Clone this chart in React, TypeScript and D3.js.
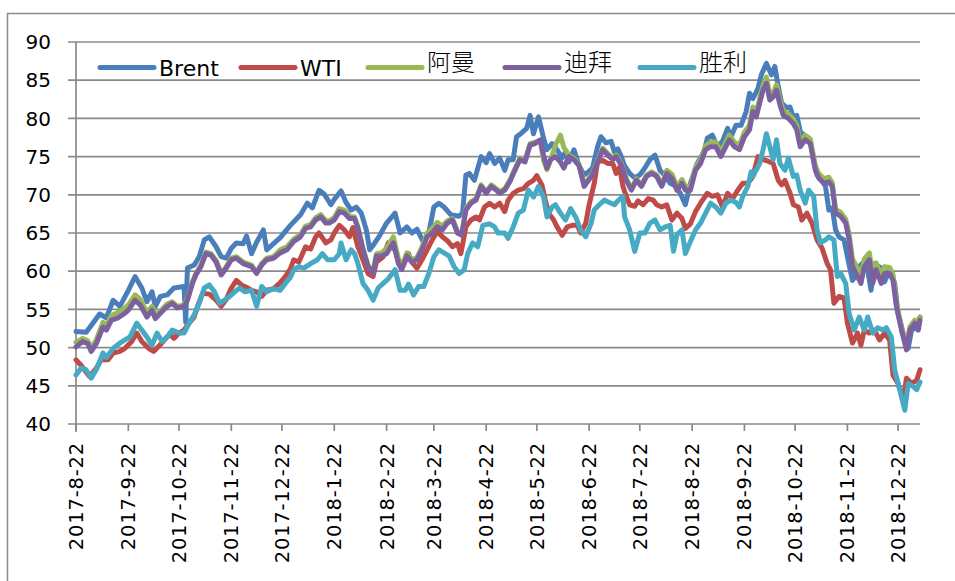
import React from "react";
import * as d3 from "d3";

// x positions: days since 2017-08-22
const startDate = "2017-8-22";
const endDate = "2019-1-4";

const xTickLabels = [
  "2017-8-22", "2017-9-22", "2017-10-22", "2017-11-22", "2017-12-22",
  "2018-1-22", "2018-2-22", "2018-3-22", "2018-4-22", "2018-5-22",
  "2018-6-22", "2018-7-22", "2018-8-22", "2018-9-22", "2018-10-22",
  "2018-11-22", "2018-12-22",
];
const yTicks = [40, 45, 50, 55, 60, 65, 70, 75, 80, 85, 90];

const seriesNames = ["Brent", "WTI", "阿曼", "迪拜", "胜利"];
const seriesColors = ["#4A7EBB", "#BE4B48", "#98B954", "#7D60A0", "#46AAC5"];

const brent: [number, number][] = [[0,52.1],[6,52.0],[9,52.9],[14,54.4],[18,53.9],[22,56.2],[26,55.4],[31,57.5],[35,59.3],[39,57.8],[42,56.0],[45,57.3],[47,55.4],[50,56.7],[54,56.9],[58,57.8],[64,58.0],[65,53.3],[66,60.4],[70,60.8],[73,61.9],[76,64.1],[79,64.5],[83,63.2],[86,61.9],[89,61.7],[92,63.0],[95,63.7],[99,63.6],[101,64.6],[104,62.3],[107,63.8],[111,65.4],[113,62.8],[117,63.6],[121,64.4],[127,66.0],[133,67.4],[137,68.9],[140,68.3],[144,70.6],[147,70.1],[151,68.7],[153,69.4],[157,70.5],[160,69.0],[163,68.0],[166,68.4],[169,67.6],[172,65.4],[174,62.8],[177,63.7],[180,64.7],[184,66.3],[189,67.6],[192,65.0],[196,65.8],[199,65.0],[202,65.5],[206,63.7],[209,65.0],[212,68.4],[215,68.9],[218,68.4],[222,67.4],[227,67.2],[229,67.6],[231,72.6],[233,72.8],[236,71.9],[240,75.0],[243,74.2],[245,75.4],[248,74.1],[251,74.8],[254,73.2],[256,74.6],[259,74.6],[261,77.6],[264,78.1],[267,78.7],[269,80.4],[271,78.0],[274,80.2],[277,77.4],[279,75.9],[282,76.7],[285,75.9],[288,74.8],[290,75.6],[292,74.3],[295,75.9],[298,73.8],[301,72.6],[303,72.9],[306,73.5],[309,76.3],[311,77.6],[314,76.8],[317,77.0],[319,75.6],[321,76.0],[323,75.0],[325,73.8],[328,72.8],[331,72.2],[334,72.6],[337,73.5],[340,74.6],[343,75.2],[346,73.2],[349,72.5],[352,71.5],[355,71.2],[358,70.2],[361,68.7],[364,71.5],[368,74.1],[372,75.6],[374,77.4],[377,77.8],[380,76.3],[383,77.0],[386,78.7],[388,77.6],[391,79.1],[394,79.1],[397,80.9],[399,83.3],[401,82.6],[404,83.9],[406,85.7],[409,87.2],[412,85.7],[414,86.8],[416,84.2],[418,82.0],[421,81.4],[423,81.5],[425,80.1],[427,80.4],[429,78.3],[432,77.6],[435,77.0],[437,74.6],[439,72.6],[442,71.9],[444,71.1],[446,68.0],[448,68.3],[450,65.4],[452,64.5],[455,64.1],[457,61.9],[460,58.8],[462,59.5],[464,60.6],[468,61.5],[471,57.5],[473,61.0],[477,60.4],[479,58.6],[482,60.2],[485,58.4],[487,54.5],[490,51.9],[493,49.9],[495,52.3],[498,52.6],[500,54.0]];

const wti: [number, number][] = [[0,48.4],[3,47.7],[8,46.2],[12,47.3],[15,48.4],[19,48.4],[22,49.3],[26,49.5],[29,49.9],[33,50.8],[36,51.9],[39,50.8],[43,49.9],[46,49.5],[50,50.4],[54,51.4],[56,51.7],[58,51.2],[61,51.9],[64,52.3],[67,53.2],[70,54.0],[72,55.4],[75,57.1],[79,57.0],[83,56.2],[86,55.4],[89,56.3],[92,57.8],[95,58.8],[98,58.2],[101,57.9],[104,57.5],[107,57.3],[110,56.7],[113,57.5],[117,57.7],[121,58.5],[124,59.3],[127,60.3],[129,61.5],[132,61.2],[136,63.2],[139,62.9],[142,64.5],[144,65.0],[148,63.7],[151,64.1],[153,65.0],[156,66.0],[159,65.4],[162,64.5],[164,65.7],[167,63.2],[170,61.5],[173,59.7],[176,59.3],[178,61.2],[182,61.9],[185,63.7],[188,63.3],[191,61.5],[194,60.8],[197,62.3],[199,61.2],[202,60.4],[205,61.5],[208,62.8],[211,64.1],[214,65.2],[217,64.5],[220,64.0],[223,63.2],[226,63.6],[228,62.3],[231,65.8],[234,66.7],[237,67.1],[239,66.7],[242,68.4],[245,68.9],[248,68.4],[251,68.9],[254,67.8],[256,69.3],[259,70.2],[262,70.6],[265,70.8],[268,71.5],[271,71.9],[273,72.5],[276,71.3],[278,69.3],[280,67.6],[283,66.7],[285,65.8],[288,64.7],[291,65.8],[294,66.0],[297,66.0],[299,65.0],[302,66.3],[304,68.7],[307,71.5],[309,74.3],[312,74.5],[315,74.1],[318,74.1],[320,72.8],[322,73.6],[324,71.1],[326,69.8],[328,68.7],[331,68.5],[333,69.2],[336,68.7],[339,69.5],[342,69.3],[344,68.7],[347,68.4],[350,68.7],[353,66.7],[356,67.6],[359,66.9],[361,65.6],[364,66.2],[367,67.8],[370,68.9],[374,70.2],[377,69.8],[380,70.0],[383,68.4],[386,70.2],[389,69.5],[392,70.6],[395,71.5],[398,71.5],[401,72.4],[404,75.0],[407,74.6],[410,74.4],[413,74.1],[416,71.9],[418,71.3],[420,71.9],[423,70.2],[425,68.7],[428,68.4],[430,66.7],[433,67.6],[436,66.3],[439,64.1],[442,63.0],[445,61.0],[447,60.2],[449,55.8],[452,56.7],[455,56.5],[457,53.2],[460,50.6],[463,51.9],[465,50.3],[467,52.3],[470,51.9],[473,52.3],[476,51.0],[479,51.9],[482,51.0],[484,46.4],[487,45.3],[490,43.1],[492,46.0],[495,45.3],[498,45.7],[500,47.1]];

const oman: [number, number][] = [[0,50.7],[4,51.2],[7,50.9],[9,49.9],[12,51.0],[16,53.3],[18,52.9],[21,54.2],[25,54.6],[29,55.2],[31,55.6],[35,56.9],[38,56.3],[42,54.6],[45,55.4],[47,54.2],[50,54.8],[54,55.7],[57,56.0],[60,55.4],[64,55.6],[66,56.4],[69,58.6],[71,59.7],[74,60.8],[77,62.5],[80,62.3],[83,61.4],[86,59.7],[89,60.6],[92,61.7],[95,61.9],[99,61.2],[104,60.8],[107,59.9],[110,61.0],[113,61.7],[117,61.9],[121,62.8],[125,63.2],[129,64.2],[133,64.8],[136,65.9],[139,66.1],[142,67.0],[145,67.4],[148,66.6],[150,66.6],[153,67.0],[156,68.2],[159,68.0],[162,67.2],[165,67.1],[167,65.8],[170,63.0],[173,60.8],[176,59.9],[178,62.3],[181,62.4],[184,63.0],[188,64.5],[191,61.6],[193,60.6],[196,62.4],[199,61.5],[202,61.8],[205,63.2],[208,65.0],[211,65.6],[214,66.4],[217,65.9],[220,66.6],[223,66.9],[226,65.2],[228.5,64.9],[231,68.2],[234,69.1],[237,69.5],[240,71.3],[243,70.4],[246,71.3],[249,70.8],[251,70.4],[254,70.8],[257,71.9],[260,73.4],[263,74.8],[266,74.5],[269,76.7],[272,76.9],[275,77.0],[277,74.5],[279,73.3],[281,74.4],[284,76.5],[287,77.8],[289,76.2],[292,75.2],[295,74.8],[298,74.0],[301,71.3],[303,71.9],[306,72.8],[309,74.5],[312,76.1],[315,75.4],[318,74.8],[320,75.2],[323,74.1],[326,72.1],[329,70.8],[332,72.1],[335,71.3],[338,72.6],[341,73.0],[344,72.6],[347,71.3],[350,73.2],[353,72.7],[356,71.1],[359,72.0],[361,71.1],[364,71.1],[367,73.6],[370,74.6],[373,76.4],[376,76.9],[379,76.9],[382,75.6],[385,76.9],[387,77.8],[390,76.9],[393,76.5],[396,78.2],[399,79.1],[401,81.5],[403,80.8],[405,82.6],[407,84.3],[409,85.4],[411,83.1],[413,83.4],[415,84.4],[417,82.4],[419,81.0],[422,80.6],[425,79.9],[427,79.1],[429,76.9],[432,77.8],[435,77.3],[438,73.8],[440,72.8],[443,72.1],[446,72.3],[448,71.6],[450,68.1],[453,67.7],[456,66.8],[458,64.9],[460,61.6],[463,60.4],[465,59.4],[467,61.6],[470,62.4],[472,59.4],[474,61.1],[477,59.4],[479,60.6],[482,60.5],[484,59.6],[486,55.9],[489,52.7],[492,50.1],[494,52.7],[497,53.6],[499,52.7],[500,54.0]];

const dubai: [number, number][] = [[0,50.1],[4,50.8],[7,50.5],[9,49.5],[12,50.5],[16,52.7],[18,52.3],[21,53.6],[25,53.9],[29,54.5],[31,54.9],[35,56.2],[38,55.6],[42,54.0],[45,54.9],[47,53.8],[50,54.5],[54,55.4],[57,55.8],[60,55.2],[64,55.4],[66,56.2],[69,58.4],[71,59.5],[74,60.6],[77,62.3],[80,62.1],[83,61.2],[86,59.5],[89,60.4],[92,61.5],[95,61.7],[99,61.0],[104,60.6],[107,59.7],[110,60.8],[113,61.5],[117,61.7],[121,62.4],[125,62.8],[129,63.9],[133,64.5],[136,65.6],[139,65.8],[142,66.7],[145,67.1],[148,66.3],[150,66.3],[153,66.7],[156,67.8],[159,67.6],[162,66.9],[165,66.9],[167,65.6],[170,62.8],[173,60.6],[176,59.7],[178,62.0],[181,62.0],[184,62.3],[188,63.7],[191,61.0],[193,60.2],[196,62.0],[199,61.2],[202,61.5],[205,62.8],[208,64.5],[211,65.0],[214,65.8],[217,65.4],[220,66.3],[223,66.7],[226,65.0],[228.5,64.7],[231,68.0],[234,68.9],[237,69.3],[240,71.1],[243,70.2],[246,71.1],[249,70.6],[251,70.2],[254,70.6],[257,71.7],[260,73.2],[263,74.6],[266,74.3],[269,76.5],[272,76.7],[275,77.2],[277,75.2],[279,73.5],[281,74.6],[284,75.0],[287,74.3],[289,73.5],[292,75.0],[295,74.6],[298,73.8],[301,71.1],[303,71.7],[306,72.6],[309,74.3],[312,75.9],[315,75.2],[318,74.6],[320,75.0],[323,73.9],[326,71.9],[329,70.6],[332,71.9],[335,71.1],[338,72.4],[341,72.8],[344,72.4],[347,71.1],[350,72.8],[353,72.2],[356,70.6],[359,71.5],[361,70.6],[364,70.6],[367,73.2],[370,74.1],[373,75.9],[376,76.3],[379,76.3],[382,75.0],[385,76.3],[387,77.2],[390,76.3],[393,75.9],[396,77.6],[399,78.5],[401,80.9],[403,80.2],[405,82.0],[407,83.7],[409,84.6],[411,82.4],[413,82.8],[415,83.7],[417,81.8],[419,80.4],[422,80.0],[425,79.3],[427,78.5],[429,76.3],[432,77.2],[435,76.7],[438,73.2],[440,72.2],[443,71.5],[446,71.7],[448,71.1],[450,67.6],[453,67.2],[456,66.3],[458,64.1],[460,60.6],[463,59.3],[465,58.4],[467,60.6],[470,61.5],[472,58.4],[474,60.2],[477,58.4],[479,59.7],[482,59.7],[484,58.8],[486,55.4],[489,52.3],[492,49.7],[494,52.3],[497,53.2],[499,52.3],[500,53.6]];

const shengli: [number, number][] = [[0,46.4],[3,47.3],[6,47.1],[9,46.0],[12,47.1],[16,49.3],[18,48.7],[22,49.9],[26,50.6],[29,51.0],[32,51.4],[36,53.2],[39,52.3],[42,51.4],[45,50.3],[48,51.9],[51,50.8],[54,51.4],[57,52.3],[61,51.9],[64,51.9],[67,53.2],[70,54.3],[73,55.8],[76,57.8],[79,58.2],[82,57.3],[85,55.8],[88,56.2],[91,56.7],[94,57.3],[97,57.8],[100,57.3],[104,57.5],[107,55.4],[110,58.0],[113,57.3],[117,57.7],[121,57.5],[124,58.4],[127,59.2],[129,60.2],[132,60.6],[135,60.4],[139,61.0],[143,61.5],[146,62.3],[149,61.5],[153,61.5],[156,62.3],[157,63.7],[160,61.5],[163,62.8],[165,62.3],[167,61.0],[170,58.4],[173,57.5],[176,56.2],[179,57.8],[182,58.4],[185,59.0],[189,60.2],[192,57.5],[195,57.5],[197,58.3],[200,56.9],[203,58.0],[206,58.0],[209,59.7],[212,61.9],[215,62.8],[218,62.4],[221,62.0],[224,60.6],[227,59.7],[230,60.2],[232,62.3],[235,63.7],[238,63.2],[241,66.0],[245,66.2],[248,65.8],[250,65.0],[254,65.0],[256,64.3],[259,65.8],[262,67.6],[265,68.0],[268,70.6],[271,69.7],[274,71.1],[277,69.7],[279,67.1],[282,68.4],[284,68.7],[287,67.6],[290,66.7],[293,68.2],[296,67.1],[299,65.4],[302,64.5],[305,66.2],[307,68.0],[310,68.7],[313,69.3],[316,69.0],[319,68.7],[321,69.2],[324,69.8],[325,67.1],[328,65.4],[331,62.6],[334,65.0],[337,65.0],[340,66.3],[343,66.7],[346,65.4],[349,65.8],[352,66.0],[354,62.6],[356,64.8],[359,65.4],[361,62.3],[364,63.9],[367,65.4],[370,66.3],[373,67.6],[376,68.9],[379,68.4],[382,67.6],[385,68.9],[388,69.3],[391,69.0],[393,68.4],[395,69.8],[398,71.1],[400,73.0],[401,72.4],[405,74.1],[407,75.9],[409,78.0],[411,76.3],[413,74.6],[415,77.2],[417,74.1],[420,73.2],[422,74.8],[425,72.4],[427,72.6],[429,70.6],[432,68.9],[434,70.6],[437,69.8],[439,65.4],[441,63.7],[444,64.1],[446,64.5],[449,64.1],[451,59.3],[453,59.7],[456,58.4],[458,54.5],[461,52.3],[464,54.0],[467,52.3],[469,54.0],[472,51.9],[475,52.6],[478,52.3],[480,52.6],[483,51.4],[485,47.1],[488,44.5],[491,41.8],[493,45.3],[496,44.9],[498,44.5],[500,45.5]];

const seriesData = [brent, wti, oman, dubai, shengli];

const parseD = (s: string) => {
  const [y, m, d] = s.split("-").map(Number);
  return new Date(Date.UTC(y, m - 1, d));
};
const DAY_MS = 864e5;

export default function App() {
  const start = parseD(startDate);
  const x = d3.scaleUtc().domain([start, parseD(endDate)]).range([76, 920]);
  const y = d3.scaleLinear().domain([40, 90]).range([424, 42]);
  const line = d3
    .line<[number, number]>()
    .x((d) => x(new Date(start.getTime() + d[0] * DAY_MS)))
    .y((d) => y(d[1]));

  const gridColor = "#8A8A8A";
  const font = "'DejaVu Sans', Verdana, sans-serif";
  const legendX = [100, 241, 368, 505, 640];

  return (
    <svg
      width={955}
      height={581}
      style={{ position: "absolute", left: 0, top: 0, background: "#fff" }}
    >
      <rect x={0} y={0} width={955} height={581} fill="#fff" />
      <rect x={7.5} y={13.5} width={1100} height={1100} fill="none" stroke="#8C8C8C" strokeWidth={1.5} />
      {yTicks.map((t) => (
        <line key={t} x1={68} x2={920} y1={y(t)} y2={y(t)} stroke={gridColor} strokeWidth={1.7} />
      ))}
      <line x1={76} x2={76} y1={y(90)} y2={432} stroke={gridColor} strokeWidth={1.7} />
      {xTickLabels.map((s) => (
        <line key={s} x1={x(parseD(s))} x2={x(parseD(s))} y1={424} y2={431} stroke={gridColor} strokeWidth={1.7} />
      ))}
      {yTicks.map((t) => (
        <text key={t} x={51} y={y(t)} dy="0.36em" textAnchor="end" fontFamily={font} fontSize={20} fill="#000">
          {t}
        </text>
      ))}
      {xTickLabels.map((s) => {
        const px = x(parseD(s));
        return (
          <text
            key={s}
            transform={`translate(${px},442) rotate(-90)`}
            textAnchor="end"
            dy="0.36em"
            fontFamily={font}
            fontSize={19.5}
            letterSpacing={0.8}
            fill="#000"
          >
            {s}
          </text>
        );
      })}
      {seriesData.map((data, i) => (
        <path
          key={seriesNames[i]}
          d={line(data) || ""}
          fill="none"
          stroke={seriesColors[i]}
          strokeWidth={5}
          strokeLinejoin="round"
          strokeLinecap="round"
        />
      ))}
      {seriesNames.map((n, i) => {
        const lx = legendX[i];
        const cjk = i >= 2;
        return (
          <g key={n}>
            <line x1={lx} x2={lx + 54} y1={67.5} y2={67.5} stroke={seriesColors[i]} strokeWidth={5} strokeLinecap="round" />
            <text
              x={lx + 59}
              y={cjk ? 71 : 75.5}
              fontFamily={cjk ? "'Noto Sans CJK SC', sans-serif" : font}
              fontSize={cjk ? 24 : 22}
              fontWeight={cjk ? 300 : 400}
              fill="#000"
            >
              {n}
            </text>
          </g>
        );
      })}
    </svg>
  );
}
